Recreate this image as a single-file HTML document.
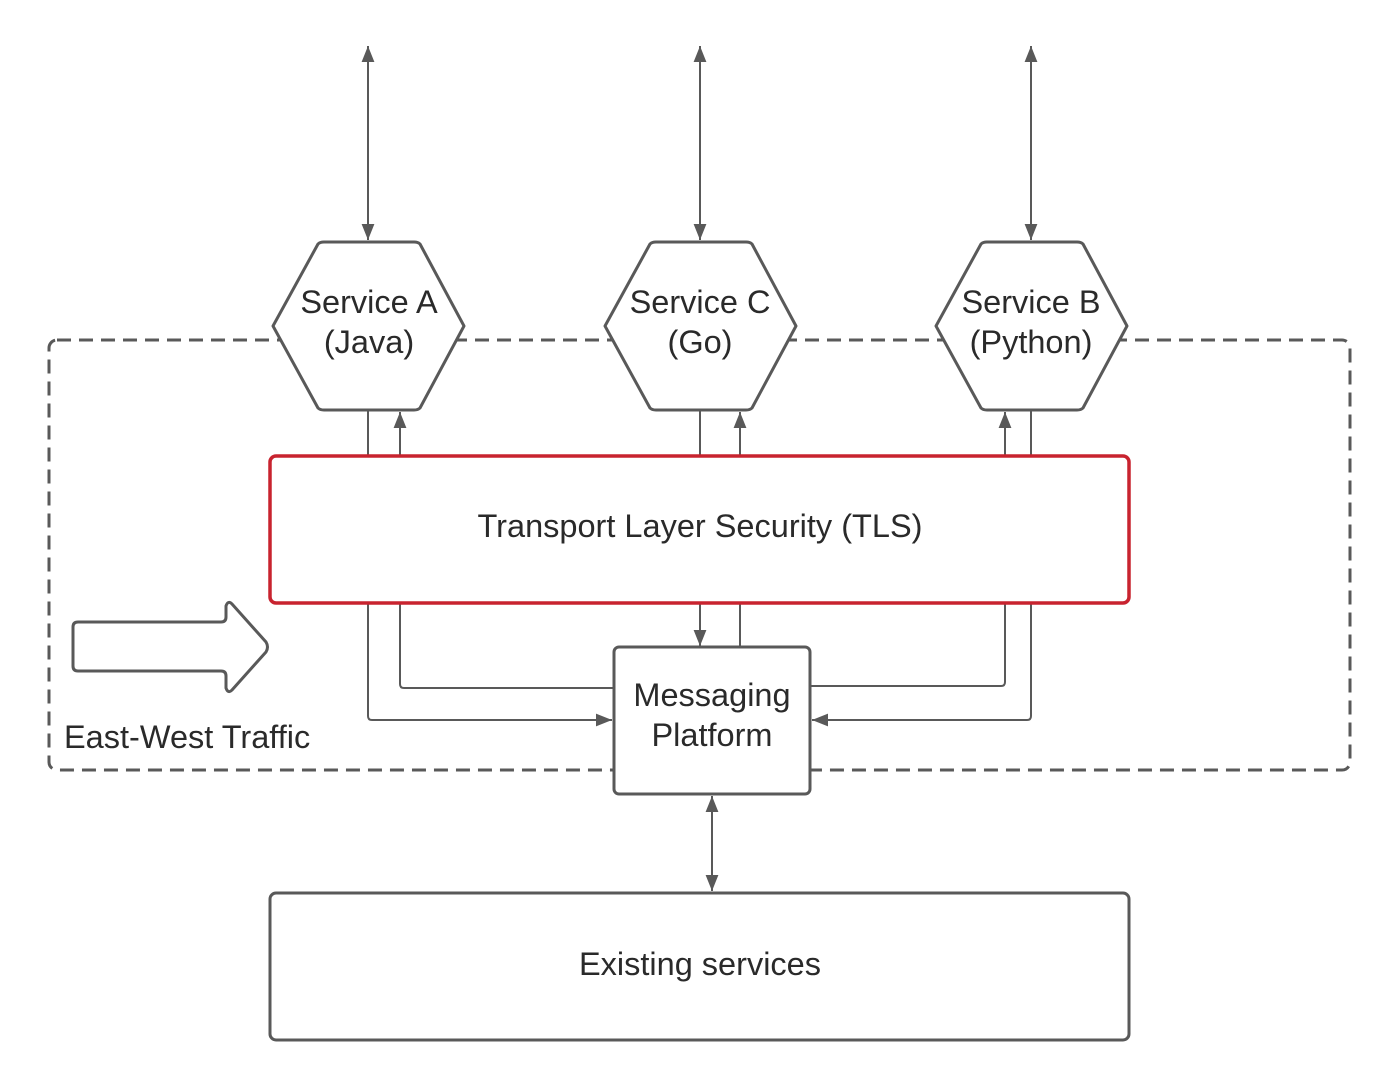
<!DOCTYPE html>
<html><head><meta charset="utf-8"><style>
html,body{margin:0;padding:0;background:#fff;}
svg{display:block;}
text{font-family:"Liberation Sans",sans-serif;fill:#2a2a2a;font-size:32.5px;}
</style></head><body>
<svg width="1400" height="1089" viewBox="0 0 1400 1089" xmlns="http://www.w3.org/2000/svg">
<defs>
<marker id="ar" viewBox="0 0 10 10" refX="10" refY="5" markerWidth="16" markerHeight="16" markerUnits="userSpaceOnUse" orient="auto-start-reverse">
<path d="M0,1 L10,5 L0,9 z" fill="#595959"/>
</marker>
</defs>
<g fill="none" stroke="#595959" stroke-width="3">
<rect x="49" y="340" width="1301" height="430" rx="8" stroke-dasharray="14 8"/>
</g>
<g stroke="#595959" stroke-width="2" fill="none">
<line x1="368" y1="46" x2="368" y2="240" marker-start="url(#ar)" marker-end="url(#ar)"/>
<line x1="700" y1="46" x2="700" y2="240" marker-start="url(#ar)" marker-end="url(#ar)"/>
<line x1="1031" y1="46" x2="1031" y2="240" marker-start="url(#ar)" marker-end="url(#ar)"/>
<line x1="368" y1="410" x2="368" y2="456"/>
<line x1="400" y1="456" x2="400" y2="412" marker-end="url(#ar)"/>
<line x1="700" y1="410" x2="700" y2="456"/>
<line x1="740" y1="456" x2="740" y2="412" marker-end="url(#ar)"/>
<line x1="1031" y1="410" x2="1031" y2="456"/>
<line x1="1005" y1="456" x2="1005" y2="412" marker-end="url(#ar)"/>
<path d="M368,603 V716 Q368,720 372,720 H612" marker-end="url(#ar)"/>
<path d="M400,603 V684 Q400,688 404,688 H614"/>
<line x1="700" y1="603" x2="700" y2="646" marker-end="url(#ar)"/>
<line x1="740" y1="603" x2="740" y2="647"/>
<path d="M1005,603 V682 Q1005,686 1001,686 H810"/>
<path d="M1031,603 V716 Q1031,720 1027,720 H812" marker-end="url(#ar)"/>
<line x1="712" y1="796" x2="712" y2="891" marker-start="url(#ar)" marker-end="url(#ar)"/>
</g>
<g fill="#fff" stroke="#595959" stroke-width="3" stroke-linejoin="round">
<path d="M273,326 L318,244 Q320,242 324,242 L414,242 Q418,242 420,244 L464,326 L420,408 Q418,410 414,410 L324,410 Q320,410 318,408 Z"/>
<path d="M605,326 L650,244 Q652,242 656,242 L746,242 Q750,242 752,244 L796,326 L752,408 Q750,410 746,410 L656,410 Q652,410 650,408 Z"/>
<path d="M936,326 L981,244 Q983,242 987,242 L1077,242 Q1081,242 1083,244 L1127,326 L1083,408 Q1081,410 1077,410 L987,410 Q983,410 981,408 Z"/>
<rect x="614" y="647" width="196" height="147" rx="5"/>
<rect x="270" y="893" width="859" height="147" rx="6"/>
<path d="M78,622 L221,622 Q226,622 226,617 L226,606 Q228,600 232,604 L266,642 Q269,647 266,652 L232,690 Q228,694 226,688 L226,676 Q226,671 221,671 L78,671 Q73,671 73,666 L73,627 Q73,622 78,622 Z"/>
</g>
<rect x="270" y="456" width="859" height="147" rx="6" fill="#fff" stroke="#c8232f" stroke-width="3.5"/>
<g text-anchor="middle">
<text x="369" y="313">Service A</text>
<text x="369" y="353">(Java)</text>
<text x="700" y="313">Service C</text>
<text x="700" y="353">(Go)</text>
<text x="1031" y="313">Service B</text>
<text x="1031" y="353">(Python)</text>
<text x="700" y="537">Transport Layer Security (TLS)</text>
<text x="712" y="706">Messaging</text>
<text x="712" y="746">Platform</text>
<text x="700" y="975">Existing services</text>
</g>
<text x="64" y="748">East-West Traffic</text>
</svg>
</body></html>
